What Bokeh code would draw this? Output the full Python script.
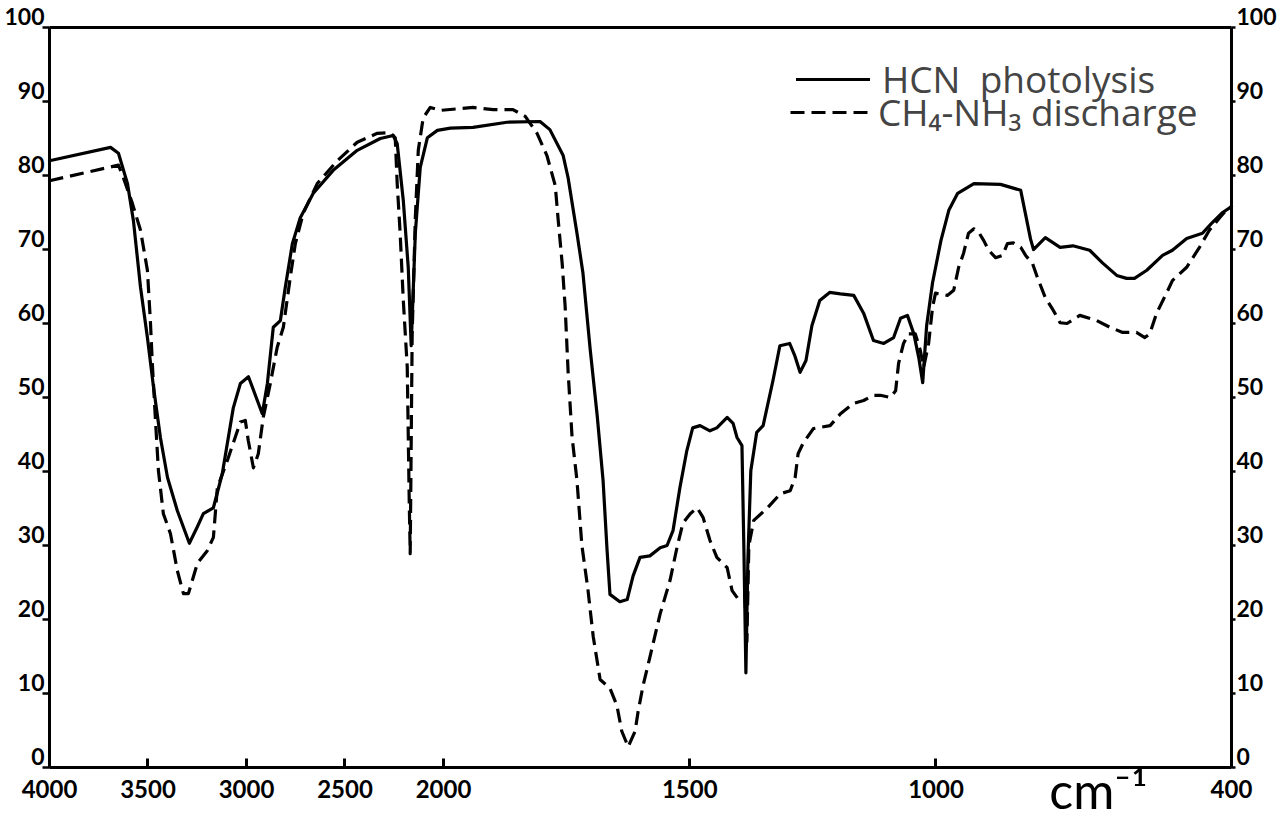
import numpy as np
from bokeh.plotting import figure
from bokeh.models import (Range1d, LinearAxis, FixedTicker, Legend, LegendItem,
                          Label, ColumnDataSource)
from bokeh.embed import file_html
from bokeh.resources import INLINE

# ---------------- data (wavenumber cm-1, % transmittance) ----------------
HCN_WN = [4000, 3690, 3650, 3604, 3574, 3538, 3503, 3472, 3437, 3401, 3351, 3290,
          3250, 3219, 3168, 3123, 3067, 3031, 2990, 2945, 2920, 2894, 2864, 2828,
          2803, 2767, 2727, 2661, 2560, 2438, 2321, 2255, 2235, 2204, 2179, 2164,
          2143, 2118, 2082, 2031, 1986, 1940, 1871, 1804, 1784, 1757, 1747, 1729,
          1717, 1702, 1688, 1676, 1668, 1662, 1642, 1627, 1615, 1601, 1581, 1560,
          1546, 1534, 1520, 1506, 1494, 1479, 1459, 1445, 1424, 1412, 1404, 1394,
          1390, 1386, 1382, 1376, 1364, 1351, 1331, 1317, 1297, 1287, 1276, 1264,
          1252, 1236, 1216, 1194, 1167, 1147, 1127, 1106, 1086, 1072, 1058, 1045,
          1035, 1027, 1019, 1007, 990, 974, 956, 923, 869, 828, 808, 802, 778, 748,
          722, 688, 662, 633, 613, 597, 572, 540, 520, 491, 459, 441, 418, 400]
HCN_T = [82.0, 83.8, 83.0, 78.9, 73.9, 64.9, 58.1, 51.4, 44.6, 39.2, 34.7, 30.3,
         32.5, 34.3, 35.1, 39.7, 48.6, 51.9, 52.8, 49.6, 47.8, 51.9, 59.5, 60.4,
         64.9, 70.8, 74.3, 77.6, 80.7, 83.4, 85.0, 85.4, 84.3, 76.6, 67.6, 57.0,
         72.2, 81.1, 85.1, 86.1, 86.4, 86.5, 87.2, 87.3, 86.2, 82.7, 79.7, 72.2,
         66.9, 56.4, 47.6, 38.8, 29.5, 23.4, 22.4, 22.7, 25.9, 28.4, 28.6, 29.7,
         30.0, 32.0, 37.8, 42.8, 45.9, 46.2, 45.5, 45.9, 47.3, 46.5, 44.6, 43.5,
         29.3, 12.8, 28.0, 40.1, 45.3, 46.2, 52.3, 57.0, 57.3, 55.7, 53.4, 55.0,
         59.7, 63.1, 64.2, 64.0, 63.8, 61.4, 57.7, 57.3, 58.1, 60.7, 61.1, 58.6,
         55.4, 52.0, 59.7, 65.5, 71.2, 75.3, 77.6, 78.9, 78.8, 78.0, 71.4, 70.0,
         71.6, 70.3, 70.5, 69.9, 68.2, 66.5, 66.1, 66.1, 67.2, 69.2, 69.9, 71.5,
         72.2, 73.5, 75.0, 75.8]

DIS_WN = [4000, 3650, 3625, 3579, 3538, 3503, 3488, 3478, 3462, 3447, 3422, 3386,
          3351, 3320, 3295, 3249, 3199, 3168, 3148, 3097, 3031, 3006, 2991, 2965,
          2940, 2915, 2879, 2844, 2813, 2778, 2752, 2712, 2641, 2539, 2438, 2336,
          2270, 2245, 2235, 2220, 2204, 2184, 2179, 2174, 2169, 2159, 2143, 2128,
          2103, 2067, 2017, 1940, 1899, 1859, 1834, 1810, 1790, 1773, 1767, 1759,
          1753, 1747, 1739, 1729, 1719, 1707, 1696, 1682, 1662, 1648, 1638, 1625,
          1611, 1605, 1595, 1581, 1560, 1540, 1526, 1514, 1499, 1485, 1473, 1459,
          1445, 1424, 1414, 1402, 1388, 1384, 1380, 1370, 1342, 1316, 1296, 1286,
          1280, 1270, 1249, 1215, 1194, 1168, 1147, 1127, 1113, 1093, 1082, 1076,
          1066, 1056, 1042, 1032, 1025, 1015, 1007, 1001, 977, 964, 954, 944, 934,
          923, 913, 903, 893, 879, 865, 855, 843, 828, 818, 804, 794, 778, 762,
          748, 734, 708, 674, 647, 621, 593, 576, 566, 552, 532, 520, 491, 465,
          445, 424, 408, 400]
DIS_T = [79.3, 81.4, 79.7, 76.2, 72.6, 67.2, 60.4, 54.6, 46.9, 40.1, 34.3, 31.6,
         26.6, 23.5, 23.5, 27.6, 29.3, 31.1, 37.8, 41.5, 46.7, 46.9, 44.2, 40.5,
         42.4, 47.3, 51.9, 56.8, 59.5, 66.2, 70.8, 74.9, 78.9, 82.0, 84.5, 85.7,
         85.8, 85.1, 78.9, 72.2, 63.1, 54.1, 45.1, 36.1, 28.9, 58.6, 74.3, 83.4,
         87.8, 89.2, 88.8, 89.2, 88.9, 88.9, 88.0, 85.7, 82.7, 78.6, 73.9, 68.1,
         62.3, 53.5, 44.7, 38.8, 30.0, 24.2, 17.7, 11.9, 10.7, 8.4, 4.9, 2.8,
         4.9, 7.5, 11.0, 14.9, 20.8, 25.3, 29.7, 33.0, 34.3, 35.1, 33.8, 30.7,
         28.4, 27.0, 23.9, 22.8, 23.2, 17.0, 30.0, 33.4, 35.1, 37.0, 37.4, 39.2,
         42.4, 43.8, 45.8, 46.2, 47.8, 49.2, 49.6, 50.3, 50.3, 50.0, 50.9, 54.6,
         57.3, 58.6, 58.6, 56.4, 54.1, 57.3, 62.2, 64.1, 63.8, 64.5, 67.6, 69.5, 72.2,
         72.8, 72.3, 71.2, 69.9, 68.9, 69.2, 70.8, 70.9, 70.3, 69.2, 68.1, 66.2, 63.5, 61.8,
         60.1, 60.0, 61.1, 60.4, 59.5, 58.8, 58.8, 58.1, 58.6, 61.4, 64.1, 65.8, 67.6, 70.3,
         72.6, 74.3, 75.5, 75.8]

X_TICK_LABELS = [4000, 3500, 3000, 2500, 2000, 1500, 1000, 400]
Y_TICKS = [0, 10, 20, 30, 40, 50, 60, 70, 80, 90, 100]
SERIES_NAMES = ["HCN  photolysis", "CH\u2084-NH\u2083 discharge"]
UNIT_LABEL = "cm\u207b\u00b9"


# abscissa scale of the spectrometer: 2.5x expanded below 2000 cm-1
def to_axis(w):
    w = np.asarray(w, dtype=float)
    return np.where(w >= 2000, 4000 - w, 2000 + 2.5 * (2000 - w))


FONT = "Lato"
LEG_FONT = "Open Sans"
X_MAX = float(to_axis(400))
LABEL_LIFT = 1.5   # tick numbers are lettered just above their tick marks

# The frame fills the canvas; all axes are pinned at the data edges
p = figure(width=1277, height=820,
           x_range=Range1d(-248.7, 6233.5), y_range=Range1d(-7.16, 103.65),
           output_backend="svg", toolbar_location=None,
           min_border_left=0, min_border_right=0, min_border_top=0, min_border_bottom=0)
p.xgrid.visible = False
p.ygrid.visible = False
p.outline_line_color = None
p.background_fill_color = "white"
p.border_fill_color = "white"

# bottom (wavenumber) axis at T = 0
xt = to_axis(X_TICK_LABELS)
p.xaxis.ticker = FixedTicker(ticks=[float(v) for v in xt])
p.xaxis.major_label_overrides = {float(v): str(l) for v, l in zip(xt, X_TICK_LABELS)}
for ax in p.xaxis:
    ax.fixed_location = 0
    ax.bounds = (0, X_MAX)
    ax.axis_line_width = 3
    ax.major_tick_in = 9
    ax.major_tick_out = 0
    ax.major_tick_line_width = 3
    ax.minor_tick_line_color = None
    ax.major_label_text_font = FONT
    ax.major_label_text_font_style = "bold"
    ax.major_label_text_font_size = "24px"
    ax.major_label_standoff = 12
    ax.major_label_text_color = "black"

# top frame line at T = 100
top = LinearAxis(ticker=FixedTicker(ticks=[]), axis_line_width=3,
                 major_tick_line_color=None, minor_tick_line_color=None,
                 major_label_text_color=None, major_label_standoff=0,
                 fixed_location=100, bounds=(0, X_MAX))
p.add_layout(top, "above")

# left / right transmittance axes: lines + tick marks (numbers drawn separately)
p.yaxis.ticker = FixedTicker(ticks=Y_TICKS)
right = LinearAxis(ticker=FixedTicker(ticks=Y_TICKS))
p.add_layout(right, "right")
for ax, tout, loc in ((p.yaxis[0], 7, 0.0), (right, 4, X_MAX)):
    ax.fixed_location = loc
    ax.bounds = (0, 100)
    ax.axis_line_width = 3
    ax.major_tick_in = 0
    ax.major_tick_out = tout
    ax.major_tick_line_width = 2.5
    ax.minor_tick_line_color = None
    ax.major_label_text_color = None

# tick numbers, lettered slightly above each tick
lab_pos = [t + LABEL_LIFT for t in Y_TICKS]
lab_over = {float(t + LABEL_LIFT): str(t) for t in Y_TICKS}
for side, loc, soff in (("left", 0.0, 5), ("right", X_MAX, 5)):
    lab = LinearAxis(ticker=FixedTicker(ticks=lab_pos), major_label_overrides=lab_over,
                     fixed_location=loc, axis_line_color=None,
                     major_tick_line_color=None, minor_tick_line_color=None,
                     major_tick_in=0, major_tick_out=0, major_label_standoff=soff,
                     major_label_text_font=FONT, major_label_text_font_style="bold",
                     major_label_text_font_size="23px", major_label_text_color="black")
    p.add_layout(lab, side)

src_h = ColumnDataSource(dict(x=to_axis(HCN_WN), t=HCN_T))
src_d = ColumnDataSource(dict(x=to_axis(DIS_WN), t=DIS_T))
r_h = p.line("x", "t", source=src_h, line_color="black", line_width=3.2,
             line_join="round", line_cap="round")
r_d = p.line("x", "t", source=src_d, line_color="black", line_width=3.2,
             line_dash="14 7", line_join="round")

leg_style = dict(margin=0, padding=0, glyph_height=32, label_height=32,
                 label_text_font=LEG_FONT, label_text_font_size="37px",
                 border_line_color=None, background_fill_alpha=0)
leg1 = Legend(items=[LegendItem(label=SERIES_NAMES[0], renderers=[r_h])],
              location=(796, 716), glyph_width=74, label_standoff=12, **leg_style)
leg2 = Legend(items=[LegendItem(label=SERIES_NAMES[1], renderers=[r_d])],
              location=(790, 683), glyph_width=80, label_standoff=8, **leg_style)
p.add_layout(leg1)
p.add_layout(leg2)

unit = Label(x=float(to_axis(770)), y=-3.0, text=UNIT_LABEL, text_font=FONT,
             text_font_size="50px", text_align="left", text_baseline="middle",
             text_color="black")
p.add_layout(unit)

open("out.html", "w").write(file_html(p, INLINE))
